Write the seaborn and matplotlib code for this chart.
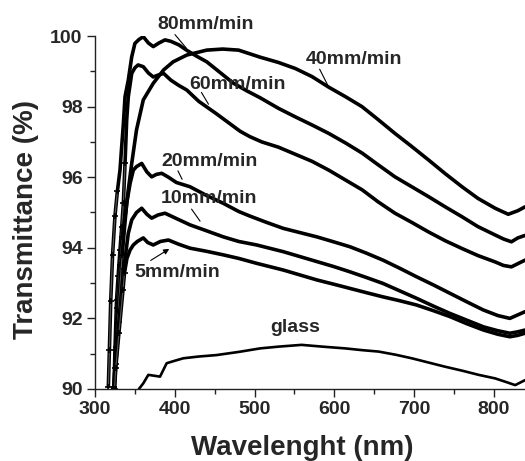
import numpy as np
import pandas as pd
import matplotlib
matplotlib.use('Agg')
import matplotlib.pyplot as plt
import seaborn as sns

# transmittance curves (wavelength nm, T %)
wl_80 = [316.7, 318, 319.7, 322, 325, 328, 331.3, 333.4, 335.5, 337.6, 341.7, 346, 350, 355, 360.5,
         367, 373, 380, 387.7, 395, 405, 416, 428, 440, 456, 473, 490, 507, 530, 551, 572, 593, 614,
         635, 655, 676, 697, 718, 739, 760, 780, 800, 812, 822, 830, 839]
t_80 = [90.07, 91.1, 92.5, 93.8, 94.9, 95.6, 96.2, 96.86, 97.5, 98.28, 98.75, 99.41, 99.79, 99.9, 99.98,
        99.8, 99.7, 99.8, 99.89, 99.85, 99.75, 99.58, 99.42, 99.27, 98.98, 98.67, 98.45, 98.25, 97.95,
        97.71, 97.48, 97.24, 96.97, 96.68, 96.35, 96.01, 95.73, 95.45, 95.16, 94.88, 94.6, 94.38, 94.25,
        94.17, 94.28, 94.35]

wl_60 = [323.8, 325, 327, 329, 331.3, 333.5, 335.5, 337.6, 339.7, 341.7, 346, 350, 354, 360.5, 367, 373,
         380, 386, 395, 405, 415, 430, 452, 470, 482, 494, 509, 530, 551, 572, 593, 614, 635, 655, 676,
         697, 718, 739, 760, 780, 801.6, 812, 822, 830, 839]
t_60 = [90.07, 91.1, 92.52, 93.2, 93.94, 94.6, 95.26, 96.39, 97.62, 98.28, 98.94, 99.1, 99.18, 99.13,
        98.95, 98.84, 98.9, 98.94, 98.75, 98.6, 98.47, 98.15, 97.8, 97.5, 97.3, 97.15, 97.0, 96.85, 96.65,
        96.45, 96.2, 95.92, 95.64, 95.3, 94.98, 94.72, 94.45, 94.2, 93.98, 93.78, 93.6, 93.5, 93.46,
        93.55, 93.65]

wl_40 = [324, 326, 328, 331, 334, 338.8, 341.7, 346, 352, 360.5, 373, 386, 398, 415, 440, 460, 480, 507,
         530, 551, 572, 593, 614, 634.6, 655, 676, 697, 718, 739, 760, 780, 801.6, 818, 830, 839]
t_40 = [90.07, 91.2, 92.3, 93.5, 94.3, 95.07, 95.64, 96.39, 97.34, 98.19, 98.66, 99.04, 99.27, 99.46,
        99.6, 99.63, 99.6, 99.4, 99.25, 99.08, 98.85, 98.55, 98.28, 98.0, 97.63, 97.24, 96.87, 96.49,
        96.1, 95.73, 95.4, 95.12, 94.95, 95.05, 95.16]

wl_20 = [323.5, 325, 329, 334, 339.7, 344, 348, 352, 358.5, 365, 371, 377, 383.6, 392, 402, 419, 440,
         460.8, 480, 494, 515, 536, 557, 578, 599, 619.5, 640, 661, 682, 703, 724, 745, 766, 786.6, 805,
         820, 830, 839]
t_20 = [90.0, 90.6, 92.2, 93.8, 95.26, 95.83, 96.2, 96.3, 96.39, 96.15, 96.01, 96.08, 96.11, 96.0, 95.85,
        95.73, 95.48, 95.26, 95.03, 94.9, 94.72, 94.55, 94.43, 94.31, 94.17, 94.03, 93.85, 93.65, 93.42,
        93.18, 92.95, 92.71, 92.47, 92.24, 92.08, 92.0, 92.1, 92.19]

wl_10 = [324, 326, 330, 336, 341.7, 346, 352, 358.5, 365, 371, 379, 387.7, 400, 419, 440, 460.8, 480,
         502.6, 536, 557, 578, 599, 619.5, 640, 661, 682, 703, 724, 745, 766, 787, 805, 820, 830, 839]
t_10 = [90.0, 90.7, 91.9, 93.4, 94.41, 94.79, 95.0, 95.12, 94.95, 94.84, 94.93, 94.98, 94.85, 94.65,
        94.48, 94.31, 94.18, 94.08, 93.89, 93.75, 93.61, 93.47, 93.32, 93.16, 92.99, 92.78, 92.57, 92.35,
        92.14, 91.95, 91.76, 91.65, 91.58, 91.62, 91.67]

wl_5 = [324.5, 326, 330, 335, 337, 340, 344, 348, 353, 360.5, 366, 373, 382, 392, 405, 419, 440, 460.8,
        480, 502.6, 536, 557, 578, 599, 619.5, 640, 661, 682, 703, 724, 745, 766, 787, 805, 820, 830, 839]
t_5 = [90.0, 90.6, 91.6, 92.8, 93.3, 93.7, 93.94, 94.08, 94.18, 94.28, 94.15, 94.08, 94.18, 94.22, 94.1,
       93.99, 93.9, 93.8, 93.7, 93.56, 93.37, 93.23, 93.09, 92.97, 92.85, 92.73, 92.61, 92.5, 92.38,
       92.22, 92.05, 91.85, 91.67, 91.55, 91.48, 91.52, 91.58]

wl_glass = [355, 360.5, 366.8, 373, 381.5, 389.8, 400, 410.7, 430, 452, 480, 507, 530, 559, 585, 613.7,
            635, 655.5, 677, 697, 718, 739, 760, 781, 801.6, 815, 826.7, 839]
t_glass = [90.0, 90.16, 90.4, 90.38, 90.35, 90.73, 90.8, 90.87, 90.92, 90.96, 91.05, 91.15, 91.2, 91.25,
           91.2, 91.15, 91.1, 91.06, 90.97, 90.87, 90.75, 90.63, 90.52, 90.4, 90.3, 90.2, 90.11, 90.25]

series = {
    '80mm/min': (wl_80, t_80),
    '60mm/min': (wl_60, t_60),
    '40mm/min': (wl_40, t_40),
    '20mm/min': (wl_20, t_20),
    '10mm/min': (wl_10, t_10),
    '5mm/min': (wl_5, t_5),
    'glass': (wl_glass, t_glass),
}

# label text position, leader line start/end (data coords)
labels = {
    '80mm/min': ((439, 100.33), (398, 100.1), (416.5, 99.6)),
    '60mm/min': ((478, 98.64), (431.6, 98.47), (444, 98.0)),
    '40mm/min': ((625, 99.33), (580, 99.13), (593, 98.55)),
    '20mm/min': ((443, 96.44), (402.4, 96.25), (410.7, 95.87)),
    '10mm/min': ((443, 95.41), (419, 95.16), (433.7, 94.69)),
    '5mm/min': ((403, 93.3), (366.8, 93.6), (396, 94.01)),
    'glass': ((550.6, 91.73), None, None),
}

rows = []
for name, (xs, ys) in series.items():
    for x, y in zip(xs, ys):
        rows.append((name, x, y))
df = pd.DataFrame(rows, columns=['sample', 'wavelength', 'T'])

sns.set_style('ticks')
plt.rcParams['font.family'] = ['Liberation Sans', 'DejaVu Sans']
plt.rcParams['font.weight'] = 'bold'

fig = plt.figure(figsize=(5.25, 4.61), dpi=100)
ax = fig.add_axes([0.181, 0.1562, 0.819, 0.7657])

for name in series:
    sub = df[df['sample'] == name]
    # flat parts as a thick trace, steep rise as a thin line with cross markers
    steep = sub[sub['wavelength'] < (sub['wavelength'].iloc[0] + 14)] if name != 'glass' else sub.iloc[:0]
    sns.lineplot(data=sub, x='wavelength', y='T', color='black', sort=False, estimator=None,
                 linewidth=1.9 if name == 'glass' else 2.6, ax=ax)
    if len(steep):
        sns.lineplot(data=steep, x='wavelength', y='T', color='#555555', sort=False, estimator=None,
                     linewidth=0.8, marker='+', markersize=5, markeredgecolor='black',
                     markeredgewidth=1.2, ax=ax)

for name, (txt, p0, p1) in labels.items():
    ax.text(txt[0], txt[1], name, ha='center', va='center', fontsize=14, fontweight='bold', zorder=5)
    if p0 is not None:
        style = '-|>' if name == '5mm/min' else '-'
        ax.annotate('', xy=p1, xytext=p0,
                    arrowprops=dict(arrowstyle=style, color='black', lw=0.8, mutation_scale=8))

ax.set_xlim(300, 839)
ax.set_ylim(90, 100)
ax.set_xticks([300, 400, 500, 600, 700, 800])
ax.set_yticks([90, 92, 94, 96, 98, 100])
ax.set_xticks(np.arange(350, 839, 100), minor=True)
ax.set_yticks(np.arange(91, 100, 2), minor=True)
ax.tick_params(which='major', direction='out', length=5.5, width=1, labelsize=14, pad=3.5, color='#222222')
ax.tick_params(which='minor', direction='out', length=3.5, width=1, color='#222222')
for lab in ax.get_xticklabels() + ax.get_yticklabels():
    lab.set_fontweight('bold')

sns.despine(ax=ax)
for s in ['left', 'bottom']:
    ax.spines[s].set_linewidth(1)
    ax.spines[s].set_color('#222222')

ax.set_xlabel('Wavelenght (nm)', fontsize=20, fontweight='bold')
ax.set_ylabel('Transmittance (%)', fontsize=20, fontweight='bold')
ax.xaxis.set_label_coords(0.483, -0.13)
ax.yaxis.set_label_coords(-0.13, 0.479)

fig.savefig('out.png', dpi=100)
